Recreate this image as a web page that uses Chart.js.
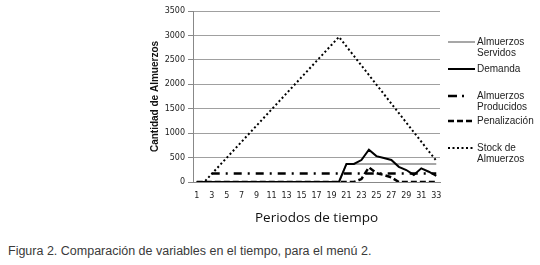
<!DOCTYPE html>
<html>
<head>
<meta charset="utf-8">
<script src="https://cdn.jsdelivr.net/npm/chart.js@4.4.1/dist/chart.umd.min.js"></script>
<style>
  body { margin: 0; background: #fff; width: 540px; height: 265px; overflow: hidden; position: relative; }
  #wrap { position: absolute; left: 0; top: 0; width: 540px; height: 232px; }
  #caption { position: absolute; left: 8px; top: 244px; font: 12.5px "Liberation Sans", Arial, sans-serif; color: #3a3a3a; white-space: nowrap; }
</style>
</head>
<body>
<div id="wrap"><canvas id="chart"></canvas></div>
<div id="caption">Figura 2. Comparación de variables en el tiempo, para el menú 2.</div>
<script>
const periods = ['1','2','3','4','5','6','7','8','9','10','11','12','13','14','15','16','17',
  '18','19','20','21','22','23','24','25','26','27','28','29','30','31','32','33'];
const yTicks = [0, 500, 1000, 1500, 2000, 2500, 3000, 3500];

const servidos = [0,0,0,0,0,0,0,0,0,0,0,0,0,0,0,0,0,0,0,0,
  370,370,370,370,370,370,370,370,370,370,370,370,370];
const demanda = [0,0,0,0,0,0,0,0,0,0,0,0,0,0,0,0,0,0,0,0,
  370,370,450,660,530,490,450,310,245,145,280,210,125];
const producidos = [null,null,175,175,175,175,175,175,175,175,175,175,175,175,175,175,175,
  175,175,175,175,175,175,175,175,175,175,175,175,175,175,175,175];
const penalizacion = [0,0,0,0,0,0,0,0,0,0,0,0,0,0,0,0,0,0,0,0,0,0,
  60,300,180,145,95,0,0,0,0,0,0];
const stock = [0,0,165,330,495,660,825,990,1155,1320,1485,1650,1815,1980,2145,2310,2475,
  2640,2805,2970,2775,2580,2385,2190,1995,1800,1605,1410,1215,1020,825,630,435];

// legend: label lines + line style, drawn at the right like the original
const legendItems = [
  { lines: ['Almuerzos', 'Servidos'], color: '#8a8a8a', width: 1.5, dash: [], y: 42 },
  { lines: ['Demanda'], color: '#000', width: 2, dash: [], y: 69 },
  { lines: ['Almuerzos', 'Producidos'], color: '#000', width: 2.5, dash: [9, 5, 2, 20], y: 96 },
  { lines: ['Penalización'], color: '#000', width: 2.5, dash: [6, 3], y: 121 },
  { lines: ['Stock de', 'Almuerzos'], color: '#000', width: 2, dash: [2, 2.5], y: 148 }
];

const sideLegend = {
  id: 'sideLegend',
  afterDraw(chart) {
    const ctx = chart.ctx;
    ctx.save();
    legendItems.forEach(it => {
      ctx.strokeStyle = it.color;
      ctx.lineWidth = it.width;
      ctx.setLineDash(it.dash);
      ctx.beginPath();
      ctx.moveTo(448, it.y);
      ctx.lineTo(475, it.y);
      ctx.stroke();
      ctx.setLineDash([]);
      ctx.fillStyle = '#222';
      ctx.font = '10px "Liberation Sans", Arial, sans-serif';
      ctx.textBaseline = 'middle';
      it.lines.forEach((t, i) => ctx.fillText(t, 477, it.y + i * 11));
    });
    ctx.restore();
  }
};

const tickFont = { family: 'DejaVu Sans', size: 8 };

new Chart(document.getElementById('chart'), {
  type: 'line',
  data: {
    labels: periods,
    datasets: [
      { label: 'Almuerzos Servidos', data: servidos, borderColor: '#8a8a8a', borderWidth: 1.5, order: 5 },
      { label: 'Demanda', data: demanda, borderColor: '#000', borderWidth: 2, order: 4 },
      { label: 'Almuerzos Producidos', data: producidos, borderColor: '#000', borderWidth: 2.5,
        borderDash: [8, 6, 2, 6], order: 3 },
      { label: 'Penalización', data: penalizacion, borderColor: '#000', borderWidth: 2.5,
        borderDash: [6, 3], order: 2 },
      { label: 'Stock de Almuerzos', data: stock, borderColor: '#000', borderWidth: 2,
        borderDash: [2, 2.5], order: 1 }
    ]
  },
  options: {
    responsive: true,
    maintainAspectRatio: false,
    animation: false,
    elements: { point: { radius: 0 }, line: { tension: 0, fill: false, borderCapStyle: 'butt' } },
    layout: { padding: { left: 140, right: 100, top: 11, bottom: 0 } },
    plugins: { legend: { display: false }, tooltip: { enabled: false } },
    scales: {
      x: {
        offset: true,
        grid: { display: false },
        border: { color: '#888', width: 1 },
        ticks: {
          autoSkip: false, maxRotation: 0, color: '#222', font: tickFont, padding: 1,
          callback: function (v, i) { return i % 2 === 0 ? periods[i] : ''; }
        },
        title: {
          display: true, text: 'Periodos de tiempo', color: '#111',
          font: { family: 'Open Sans', size: 13.5 }, padding: { top: 6, bottom: 6 }
        },
        afterFit: function (s) { s.height = 50; }
      },
      y: {
        min: 0, max: 3500,
        afterBuildTicks: function (s) { s.ticks = yTicks.map(v => ({ value: v })); },
        grid: { color: '#a0a0a0', lineWidth: 1, tickLength: 5, tickColor: '#888' },
        border: { color: '#888', width: 1 },
        ticks: { color: '#222', font: tickFont, padding: 3, callback: v => String(v) },
        title: {
          display: true, text: 'Cantidad de Almuerzos', color: '#111',
          font: { family: 'Liberation Sans', size: 10, weight: 'bold' }, padding: { top: 9, bottom: 4 }
        },
        afterFit: function (s) { s.width = 53; }
      }
    }
  },
  plugins: [sideLegend]
});
</script>
</body>
</html>
